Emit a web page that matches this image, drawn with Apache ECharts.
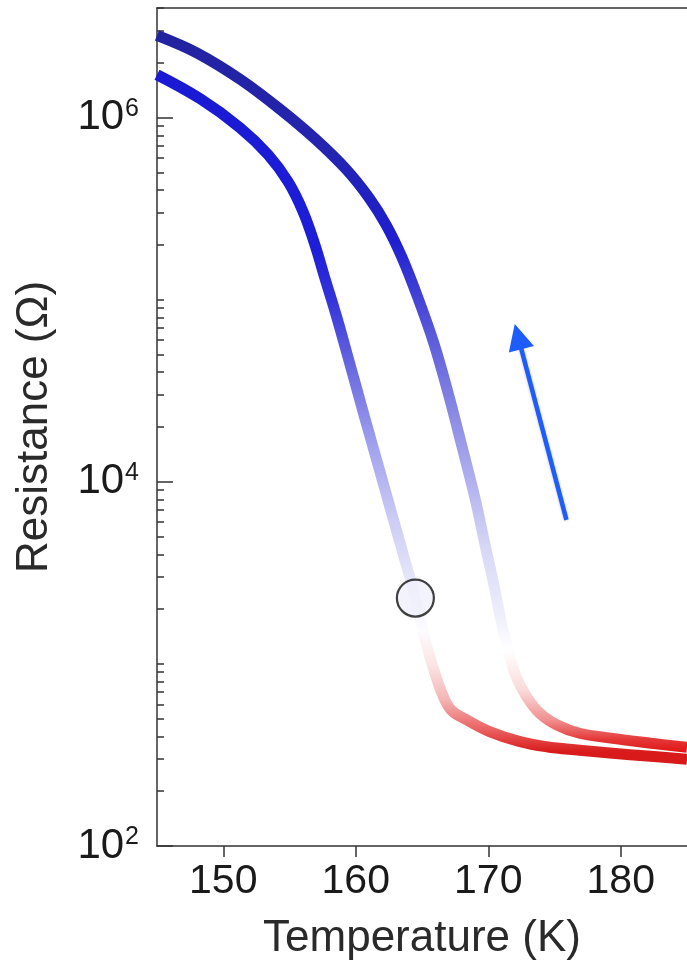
<!DOCTYPE html>
<html>
<head>
<meta charset="utf-8">
<script src="https://cdn.jsdelivr.net/npm/echarts@6/dist/echarts.min.js"></script>
<style>
html,body{margin:0;padding:0;background:#fff;}
#chart{width:687px;height:970px;}
</style>
</head>
<body>
<div id="chart"></div>
<script>
// ---- data ----
// left (lower-temperature) branch
const tempA = [145.0, 148.25, 151.26, 153.38, 154.89, 156.02, 156.92, 157.66, 158.51, 159.57, 160.62, 161.68, 162.74, 163.64, 164.25, 164.70, 165.23, 165.9, 166.5, 167.2, 168.4, 170.1, 172.4, 174.4, 176.9, 179.4, 182.0, 185.0];
const resA  = [1.72e6, 1.27e6, 8.81e5, 6.27e5, 4.45e5, 3.05e5, 2.0e5, 1.32e5, 8.28e4, 4.40e4, 2.33e4, 1.24e4, 6.59e3, 3.87e3, 2.69e3, 1.93e3, 1.36e3, 927, 693, 559, 492, 425, 374, 351, 336, 323, 312, 299];
// right (higher-temperature) branch
const tempB = [145.0, 148.0, 151.3, 154.3, 157.0, 159.3, 161.0, 162.3, 163.5, 164.7, 165.9, 167.0, 168.0, 169.0, 169.8, 170.4, 170.9, 171.5, 172.1, 172.9, 173.9, 175.2, 176.9, 179.4, 182.0, 185.0];
const resB  = [2.83e6, 2.27e6, 1.62e6, 1.11e6, 7.57e5, 5.18e5, 3.63e5, 2.57e5, 1.70e5, 1.02e5, 5.75e4, 3.02e4, 1.58e4, 8.13e3, 4.37e3, 2.77e3, 1.82e3, 1.19e3, 852, 661, 535, 462, 416, 390, 369, 348];
// marked point
const markerT = [164.5];
const markerR = [2300];
// arrow (tail, head)
const arrowT = [175.9, 172.25];
const arrowR = [6180, 6.27e4];
// axes
const xTicks = [150, 160, 170, 180];
const yMajor = [1e2, 1e4, 1e6];
const yMinor = [];
for (let e = 2; e <= 6; e++) {
  for (let k = 1; k <= 9; k++) {
    const v = k * Math.pow(10, e);
    if (k === 1 && yMajor.indexOf(v) >= 0) continue;
    if (v <= 4e6 && v > 100) yMinor.push(v);
  }
}

const zip = (a, b) => a.map((v, i) => [v, b[i]]);

const FONT = '"Liberation Sans", Arial, Helvetica, sans-serif';
const AXC = '#333';

function grad(stops) {
  return { type: 'linear', x: 0, y: 0, x2: 0, y2: 970, global: true,
    colorStops: stops.map(s => ({ offset: s[0] / 970, color: s[1] })) };
}
const gradA = grad([[0,'#1818d2'],[250,'#1e1ed8'],[300,'#3434da'],[380,'#7272e2'],[450,'#a4a4ee'],[520,'#ccccf5'],[580,'#e6e6fa'],[630,'#fcfcff'],[665,'#fbe4e4'],[700,'#f4b4b4'],[730,'#ea6060'],[752,'#d81a1a'],[970,'#d81a1a']]);
const gradB = grad([[0,'#22229c'],[150,'#2424b0'],[240,'#1e1ed0'],[300,'#4444d6'],[400,'#8282e2'],[480,'#b0b0ee'],[550,'#d8d8f6'],[610,'#ececfb'],[650,'#ffffff'],[690,'#fadada'],[720,'#f09090'],[740,'#e43636'],[752,'#e01616'],[970,'#e01616']]);

const chart = echarts.init(document.getElementById('chart'), null, { renderer: 'canvas' });
chart.setOption({
  backgroundColor: '#fff',
  animation: false,
  grid: { left: 157, right: 0, top: 8, bottom: 124, containLabel: false },
  xAxis: [{
    type: 'value', min: 145, max: 185, position: 'bottom',
    name: 'Temperature (K)', nameLocation: 'middle', nameGap: 71, nameMoveOverlap: false,
    nameTextStyle: { fontFamily: FONT, fontSize: 44, color: '#2a2a2a' },
    axisLine: { show: true, onZero: false, lineStyle: { color: AXC, width: 1.5 } },
    axisTick: { show: true, inside: false, length: 11, customValues: xTicks, lineStyle: { color: AXC, width: 1.5 } },
    axisLabel: { show: true, customValues: xTicks, margin: 15, fontFamily: FONT, fontSize: 41, color: '#1a1a1a' },
    splitLine: { show: false }
  }, {
    type: 'value', min: 145, max: 185, position: 'top',
    axisLine: { show: true, onZero: false, lineStyle: { color: AXC, width: 1.5 } },
    axisTick: { show: false }, axisLabel: { show: false }, splitLine: { show: false }
  }],
  yAxis: [{
    type: 'log', logBase: 10, min: 100, max: 4e6, position: 'left',
    name: 'Resistance (Ω)', nameLocation: 'middle', nameGap: 100, nameMoveOverlap: false,
    nameTextStyle: { fontFamily: FONT, fontSize: 44, color: '#2a2a2a' },
    axisLine: { show: true, onZero: false, lineStyle: { color: AXC, width: 1.5 } },
    axisTick: { show: true, inside: true, length: 16, customValues: yMajor, lineStyle: { color: AXC, width: 1.5 } },
    axisLabel: {
      show: true, customValues: yMajor, margin: 18,
      formatter: v => '{a|10}{b|' + Math.round(Math.log10(v)) + '}',
      rich: {
        a: { fontFamily: FONT, fontSize: 42, color: '#1a1a1a', lineHeight: 42 },
        b: { fontFamily: FONT, fontSize: 25, color: '#1a1a1a', verticalAlign: 'top', lineHeight: 22, padding: [0, 0, 0, 1] }
      }
    },
    splitLine: { show: false }
  }, {
    type: 'log', logBase: 10, min: 100, max: 4e6, position: 'left',
    axisLine: { show: false },
    axisTick: { show: true, inside: true, length: 7, customValues: yMinor, lineStyle: { color: AXC, width: 1.5 } },
    axisLabel: { show: false }, splitLine: { show: false }
  }],
  series: [{
    type: 'line', name: 'A', xAxisIndex: 0, yAxisIndex: 0,
    data: zip(tempA, resA), showSymbol: false, smooth: 0.4, z: 2,
    lineStyle: { width: 11, color: gradA, cap: 'butt', join: 'round' }
  }, {
    type: 'line', name: 'B', xAxisIndex: 0, yAxisIndex: 0,
    data: zip(tempB, resB), showSymbol: false, smooth: 0.35, z: 3,
    lineStyle: { width: 11, color: gradB, cap: 'butt', join: 'round' }
  }, {
    type: 'scatter', xAxisIndex: 0, yAxisIndex: 0, z: 5,
    data: zip(markerT, markerR), symbol: 'circle', symbolSize: 37,
    itemStyle: { color: '#f0f0fc', borderColor: '#111', borderWidth: 2.2 }
  }, {
    type: 'lines', coordinateSystem: 'cartesian2d', xAxisIndex: 0, yAxisIndex: 0, z: 6,
    data: [{ coords: zip(arrowT, arrowR) }],
    symbol: ['none', 'triangle'], symbolSize: [0, 26],
    lineStyle: { color: '#1d5cff', width: 4.5, opacity: 1, curveness: 0, shadowBlur: 3, shadowColor: 'rgba(0,0,0,0.25)' },
    itemStyle: { color: '#1d5cff' }
  }]
});
</script>
</body>
</html>
